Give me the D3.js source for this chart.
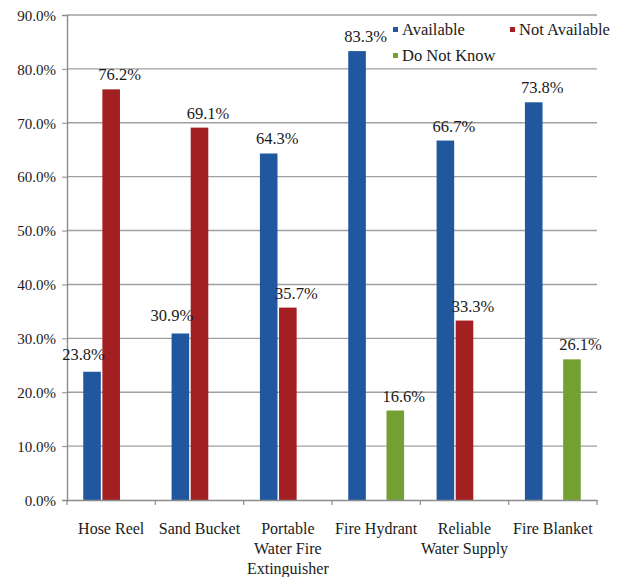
<!DOCTYPE html>
<html>
<head>
<meta charset="utf-8">
<script src="https://cdn.jsdelivr.net/npm/d3@7"></script>
<style>
  body { margin: 0; background: #fff; }
</style>
</head>
<body>
<svg id="chart" width="619" height="577"></svg>
<script>
// data
var categories = ["Hose Reel", "Sand Bucket", "Portable Water Fire Extinguisher", "Fire Hydrant", "Reliable Water Supply", "Fire Blanket"];
var catLines = [["Hose Reel"], ["Sand Bucket"], ["Portable", "Water Fire", "Extinguisher"], ["Fire Hydrant"], ["Reliable", "Water Supply"], ["Fire Blanket"]];
var seriesNames = ["Available", "Not Available", "Do Not Know"];
var available = [23.8, 30.9, 64.3, 83.3, 66.7, 73.8];
var notAvailable = [76.2, 69.1, 35.7, null, 33.3, null];
var doNotKnow = [null, null, null, 16.6, null, 26.1];
var colors = ["#21579f", "#a21f22", "#73a030"];
var yTicks = [0, 10, 20, 30, 40, 50, 60, 70, 80, 90];

var FONT = "'Liberation Serif', 'DejaVu Serif', serif";
var svg = d3.select("#chart");
var margin = {left: 67, right: 22, top: 15, bottom: 77};
var W = 619, H = 577;

var x = d3.scaleBand().domain(categories).range([margin.left, W - margin.right]).paddingInner(0).paddingOuter(0);
var xs = d3.scaleBand().domain(seriesNames).range([0, x.bandwidth()]).paddingInner(0.08).paddingOuter(0.85);
var y = d3.scaleLinear().domain([0, 90]).range([H - margin.bottom, margin.top]);

// gridlines
svg.append("g")
  .selectAll("line")
  .data(yTicks.slice(1))
  .enter().append("line")
  .attr("x1", margin.left).attr("x2", W - margin.right)
  .attr("y1", function (d) { return y(d); }).attr("y2", function (d) { return y(d); })
  .attr("stroke", "#a0a0a0").attr("stroke-width", 1.4);

// y axis
var yAxis = d3.axisLeft(y).tickValues(yTicks).tickSize(5).tickFormat(function (d) { return d.toFixed(1) + "%"; });
var gy = svg.append("g").attr("transform", "translate(" + margin.left + ",0)").call(yAxis);
gy.attr("font-family", null);
gy.select(".domain").attr("stroke", "#8c8c8c").attr("stroke-width", 1.4);
gy.selectAll(".tick line").attr("stroke", "#8c8c8c");
gy.selectAll(".tick text").attr("font-size", 15).attr("x", -11).attr("dy", "0.35em");

// bars
var series = [available, notAvailable, doNotKnow];
var barData = [];
categories.forEach(function (c, i) {
  series.forEach(function (s, j) {
    if (s[i] != null) barData.push({cat: c, i: i, name: seriesNames[j], value: s[i], k: j});
  });
});

svg.append("g").selectAll("rect")
  .data(barData)
  .enter().append("rect")
  .attr("x", function (d) { return x(d.cat) + xs(d.name); })
  .attr("width", xs.bandwidth())
  .attr("y", function (d) { return y(d.value); })
  .attr("height", function (d) { return y(0) - y(d.value); })
  .attr("fill", function (d) { return colors[d.k]; });

// value labels: start at bar's left edge, unless the neighbour bar to the right is taller
function blocked(d) {
  var nxt = series[d.k + 1];
  return nxt && nxt[d.i] != null && nxt[d.i] > d.value;
}
svg.append("g").selectAll("text")
  .data(barData)
  .enter().append("text")
  .attr("x", function (d) {
    var bx = x(d.cat) + xs(d.name);
    return blocked(d) ? bx + xs.bandwidth() + 4 : bx - 4;
  })
  .attr("y", function (d) { return y(d.value) - (blocked(d) ? 12 : 9); })
  .attr("text-anchor", function (d) { return blocked(d) ? "end" : "start"; })
  .attr("font-size", 16.5)
  .text(function (d) { return d.value.toFixed(1) + "%"; });

// x axis
var xAxis = d3.axisBottom(x).tickSize(0).tickFormat("");
var gx = svg.append("g").attr("transform", "translate(0," + y(0) + ")").call(xAxis);
gx.select(".domain").attr("stroke", "#8c8c8c").attr("stroke-width", 1.4);
var bounds = categories.map(function (c) { return x(c); }).concat([x(categories[5]) + x.bandwidth()]);
svg.append("g").selectAll("line").data(bounds).enter().append("line")
  .attr("x1", function (d) { return d; }).attr("x2", function (d) { return d; })
  .attr("y1", y(0)).attr("y2", y(0) + 5)
  .attr("stroke", "#8c8c8c").attr("stroke-width", 1.2);

// category labels
var cl = svg.append("g").selectAll("text")
  .data(categories)
  .enter().append("text")
  .attr("text-anchor", "middle")
  .attr("font-size", 16)
  .attr("transform", function (d) { return "translate(" + (x(d) + x.bandwidth() / 2) + "," + (y(0) + 34) + ")"; });
cl.each(function (d, i) {
  var t = d3.select(this);
  catLines[i].forEach(function (line, k) {
    t.append("tspan").attr("x", 0).attr("y", k * 20).text(line);
  });
});

// legend
var legendPos = [[393, 35], [510, 35], [393, 61]];
var lg = svg.append("g");
seriesNames.forEach(function (n, i) {
  var g = lg.append("g").attr("transform", "translate(" + legendPos[i][0] + "," + legendPos[i][1] + ")");
  g.append("rect").attr("x", 0).attr("y", -8).attr("width", 5).attr("height", 5).attr("fill", colors[i]);
  g.append("text").attr("x", 9).attr("y", 0).attr("font-size", 16.5).text(n);
});

// font for every text
svg.selectAll("text").style("font-family", FONT).style("fill", "#1a1a1a");
</script>
</body>
</html>
